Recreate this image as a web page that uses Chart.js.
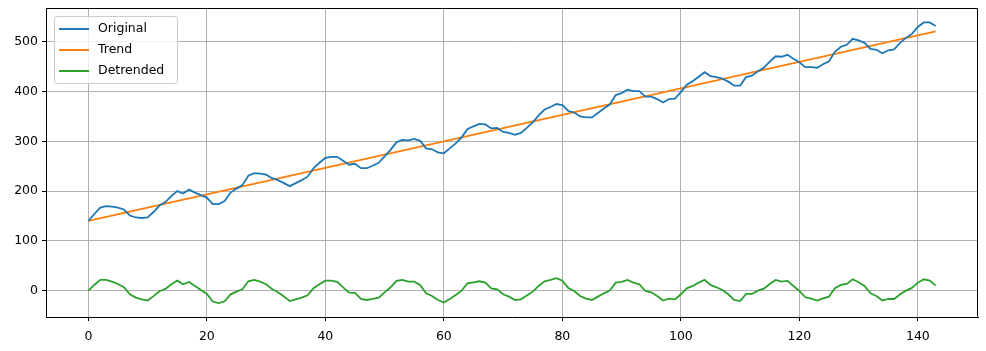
<!DOCTYPE html>
<html>
<head>
<meta charset="utf-8">
<script src="https://cdn.jsdelivr.net/npm/chart.js@4/dist/chart.umd.min.js"></script>
<style>
  html, body { margin: 0; padding: 0; background: #fff; }
  #wrap { position: relative; width: 986px; height: 351px; }
  #legend {
    position: absolute; left: 54px; top: 16px; width: 122px; height: 66px;
    border: 1px solid #cccccc; border-radius: 3px; background: rgba(255,255,255,0.8);
    font-family: "DejaVu Sans", sans-serif; font-size: 12.5px; color: #000;
  }
  .row { position: absolute; left: 0; height: 20px; width: 122px; }
  .sw { position: absolute; left: 4px; top: 9px; width: 30px; height: 2px; }
  .lb { position: absolute; left: 43px; top: 1px; line-height: 16px; white-space: nowrap; }
</style>
</head>
<body>
<div id="wrap">
  <canvas id="c" width="986" height="351"></canvas>
  <div id="legend"></div>
</div>
<script>
// ---- data ----
const seriesNames = ["Original", "Trend", "Detrended"];
const seriesColors = ["#1f77b4", "#ff7f0e", "#2ca02c"];

const original = [140,154,167,170,169,167,163,151,147,146,147,158,171,178,190,200,195,203,197,192,
  187,174,174,180,197,205,212,231,236,235,233,226,222,216,210,216,222,229,246,257,
  267,269,269,261,253,255,246,246,251,257,270,283,298,303,302,305,301,286,284,278,
  276,286,296,308,325,330,335,334,326,327,319,317,313,317,327,338,352,364,369,375,
  373,361,358,350,348,348,357,366,374,393,397,404,401,401,390,390,385,378,385,386,
  399,414,421,430,439,431,429,426,420,412,412,429,432,441,448,460,471,470,474,466,
  459,449,449,448,455,461,480,490,494,506,503,498,486,484,477,483,485,498,508,516,
  530,539,539,532];

const trendX = [0, 143];
const trendY = [140, 521];

const detrended = [0,11.4,21.5,21.5,18,13.4,6.7,-7.4,-14,-17.5,-20,-11,-1.3,3.4,12.8,20,12.8,17.5,9.4,1.3,
  -6.7,-22,-25,-21.5,-7.4,-2,2.7,18.8,21.5,18,12.8,3.4,-3.4,-12,-21,-17.5,-14,-9.4,4.7,12.8,
  20,20,17.5,6.7,-4,-4.7,-16.8,-18.8,-16.8,-14,-3.4,6.7,19.5,21.5,18,18,11.4,-5.4,-10.7,-18.8,
  -24,-16.8,-8.7,0,14.8,16.8,18.8,16,4.7,2.7,-7.4,-12,-18.8,-17.5,-10,-2,9.4,18.8,21.5,25,
  20,5.4,-0.7,-10.7,-16,-18.8,-12,-5.4,0,16,17.5,21.5,16,12.8,-0.7,-3.4,-10.7,-20,-16,-17.5,
  -7.4,4.7,9.4,16,21.5,11.4,6.7,1.3,-7.4,-18.8,-21,-6.7,-6.7,0,4,13.4,21.5,18,19.5,9.4,
  -0.7,-13.4,-16,-20,-15.4,-12,4.7,11.4,13.4,22.8,16.8,9.4,-5.4,-10.7,-20,-16.8,-16.8,-7.4,0,5.4,
  16,22.8,20,10];

const xTicks = [0, 20, 40, 60, 80, 100, 120, 140];
const yTicks = [0, 100, 200, 300, 400, 500];

// ---- build ----
const toPts = (ys) => ys.map((y, i) => ({ x: i, y: y }));
const trendPts = trendX.map((x, i) => ({ x: x, y: trendY[i] }));

const frame = {
  id: 'frame',
  afterDraw(chart) {
    const xs = chart.scales.x, ys = chart.scales.y, ctx = chart.ctx;
    const l = Math.round(xs.left) + 0.5, r = Math.round(xs.right) - 0.5;
    const t = Math.round(ys.top) + 0.5, b = Math.round(ys.bottom) - 0.5;
    ctx.save();
    ctx.strokeStyle = '#000';
    ctx.lineWidth = 1;
    ctx.beginPath();
    ctx.moveTo(l, b); ctx.lineTo(l, t); ctx.lineTo(r, t); ctx.lineTo(r, b);
    ctx.stroke();
    ctx.restore();
  }
};

const FONT = { family: "'DejaVu Sans', sans-serif", size: 12.5 };

const chart = new Chart(document.getElementById('c'), {
  type: 'line',
  data: {
    datasets: [
      { label: seriesNames[0], data: toPts(original), borderColor: seriesColors[0] },
      { label: seriesNames[1], data: trendPts, borderColor: seriesColors[1] },
      { label: seriesNames[2], data: toPts(detrended), borderColor: seriesColors[2] }
    ].map(d => Object.assign(d, { borderWidth: 1.8, pointRadius: 0, fill: false, tension: 0 }))
  },
  options: {
    responsive: false,
    animation: false,
    devicePixelRatio: 1,
    layout: { padding: { left: 0, right: 8, top: 8, bottom: 0 } },
    plugins: { legend: { display: false }, tooltip: { enabled: false } },
    scales: {
      x: {
        type: 'linear', min: -7.15, max: 150.15,
        afterBuildTicks: (s) => { s.ticks = xTicks.map(v => ({ value: v })); },
        afterFit: (s) => { s.height = 34; s.paddingLeft = 0; s.paddingRight = 0; },
        ticks: { color: '#000', font: FONT, padding: 8, maxRotation: 0 },
        grid: { color: '#b0b0b0', lineWidth: 1, tickColor: '#000', tickLength: 4 },
        border: { display: true, color: '#000', width: 1 }
      },
      y: {
        type: 'linear', min: -53, max: 568,
        afterBuildTicks: (s) => { s.ticks = yTicks.map(v => ({ value: v })); },
        afterFit: (s) => { s.width = 46; s.paddingTop = 0; s.paddingBottom = 0; },
        ticks: { color: '#000', font: FONT, padding: 4 },
        grid: { color: '#b0b0b0', lineWidth: 1, tickColor: '#000', tickLength: 4 },
        border: { display: true, color: '#000', width: 1 }
      }
    }
  },
  plugins: [frame]
});

// HTML legend built from the chart's datasets
const lg = document.getElementById('legend');
chart.data.datasets.forEach((d, i) => {
  const row = document.createElement('div');
  row.className = 'row';
  row.style.top = (2 + i * 21) + 'px';
  const sw = document.createElement('div');
  sw.className = 'sw';
  sw.style.background = d.borderColor;
  const lb = document.createElement('div');
  lb.className = 'lb';
  lb.textContent = d.label;
  row.appendChild(sw); row.appendChild(lb);
  lg.appendChild(row);
});
</script>
</body>
</html>
